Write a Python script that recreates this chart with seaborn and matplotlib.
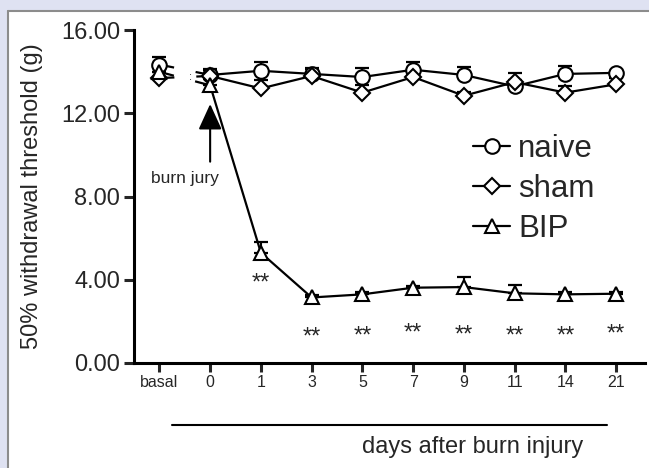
import numpy as np
import matplotlib
matplotlib.use("Agg")
import matplotlib.pyplot as plt
from matplotlib.patches import Rectangle
from matplotlib.lines import Line2D
import seaborn as sns

# data
days = ['basal', '0', '1', '3', '5', '7', '9', '11', '14', '21']
naive = [14.35, 13.85, 14.05, 13.9, 13.75, 14.1, 13.85, 13.3, 13.9, 13.95]
naive_err = [0.35, 0.3, 0.42, 0.3, 0.42, 0.36, 0.38, 0.3, 0.4, 0.1]
sham = [13.7, 13.8, 13.2, 13.8, 13.0, 13.75, 12.85, 13.5, 13.0, 13.4]
sham_err = [0.3, 0.3, 0.42, 0.35, 0.36, 0.25, 0.2, 0.45, 0.3, 0.3]
bip = [14.0, 13.35, 5.3, 3.15, 3.3, 3.62, 3.65, 3.35, 3.3, 3.33]
bip_err = [0.3, 0.3, 0.53, 0.1, 0.1, 0.1, 0.47, 0.38, 0.1, 0.1]
star_days = ['1', '3', '5', '7', '9', '11', '14', '21']
star_y = [3.55, 0.95, 1.0, 1.15, 1.05, 1.0, 1.0, 1.1]
yticks = [0, 4, 8, 12, 16]

sns.set_style("ticks")
plt.rcParams['font.family'] = ['Liberation Sans', 'DejaVu Sans']
plt.rcParams['lines.scale_dashes'] = False

fig = plt.figure(figsize=(6.49, 4.68), dpi=100)
fig.patch.set_facecolor('#dfe2f2')
fig.add_artist(Rectangle((8 / 649, 0), 1, 457 / 468, transform=fig.transFigure,
                         facecolor='white', edgecolor='none', zorder=-10))
fig.add_artist(Line2D([8 / 649, 8 / 649], [0, 457 / 468], transform=fig.transFigure,
                      color='#8c8c8c', lw=1.5, zorder=-5))
fig.add_artist(Line2D([8 / 649, 1], [457 / 468, 457 / 468], transform=fig.transFigure,
                      color='#8c8c8c', lw=1.5, zorder=-5))

ax = fig.add_axes([0.2065, 0.2244, 0.7874, 0.711])
ax.patch.set_alpha(0)

pos = np.arange(len(days))
groups = [('naive', naive, naive_err, 'o', 10.5),
          ('sham', sham, sham_err, 'D', 7.8),
          ('BIP', bip, bip_err, '^', 10.5)]

for name, vals, err, m, ms in groups:
    vals = np.array(vals)
    ax.errorbar(pos, vals, yerr=[np.zeros(len(err)), err], fmt='none', ecolor='black',
                elinewidth=1.5, capsize=5, capthick=1.6, zorder=2)
    # broken segment basal -> day 0
    ax.plot(pos[:2], vals[:2], color='black', lw=1.6,
            linestyle=(0, (10.8, 15.8, 30)), zorder=2.5)
    ax.plot(pos[:1], vals[:1], ls='none', marker=m, ms=ms, mfc='white', mec='black',
            mew=1.5, zorder=3)
    sns.lineplot(x=pos[1:], y=vals[1:], ax=ax, color='black', marker=m, markersize=ms,
                 markerfacecolor='white', markeredgecolor='black', markeredgewidth=1.5,
                 linewidth=1.6, label=name, errorbar=None, zorder=3)

for d, y in zip(star_days, star_y):
    ax.text(days.index(d), y, '**', ha='center', va='baseline', fontsize=17)

ax.text(0.61, 13.75, ':', ha='center', va='center', fontsize=8)
ax.text(-0.16, 8.87, 'burn jury', ha='left', va='center', fontsize=12.5)
ax.annotate('', xy=(1, 12.45), xytext=(1, 9.68),
            arrowprops=dict(arrowstyle='-|>,head_length=1.05,head_width=0.48',
                            mutation_scale=15, lw=1.5, color='black',
                            shrinkA=0, shrinkB=0))

ax.set_xlim(-0.5, 9.57)
ax.set_ylim(0, 16)
ax.set_xticks(pos)
ax.set_xticklabels(days)
ax.set_yticks(yticks)
ax.set_yticklabels([f'{v:.2f}' for v in yticks])
ax.tick_params(axis='y', labelsize=17, width=2.2, length=7, pad=3)
ax.tick_params(axis='x', labelsize=11.5, width=2.2, length=6.5, pad=2)
for s in ['top', 'right']:
    ax.spines[s].set_visible(False)
for s in ['left', 'bottom']:
    ax.spines[s].set_linewidth(2.2)
    ax.spines[s].set_color('black')
ax.set_xlabel('')
ax.set_ylabel('50% withdrawal threshold (g)', fontsize=17)
ax.yaxis.set_label_coords(-0.178, 0.5)

handles, labels = ax.get_legend_handles_labels()
ax.legend(handles, labels, loc='upper left', bbox_to_anchor=(473 / 649, 1 - 134 / 468),
          bbox_transform=fig.transFigure, frameon=False, fontsize=22.5,
          handlelength=1.2, handletextpad=0.25, labelspacing=0.32,
          borderpad=0, borderaxespad=0)

fig.add_artist(Line2D([172 / 649, 607 / 649], [1 - 425 / 468, 1 - 425 / 468],
                      transform=fig.transFigure, color='black', lw=1.5))
fig.text(473 / 649, 1 - 447 / 468, 'days after burn injury', ha='center', va='center',
         fontsize=17)

fig.savefig('out.png', dpi=100)
